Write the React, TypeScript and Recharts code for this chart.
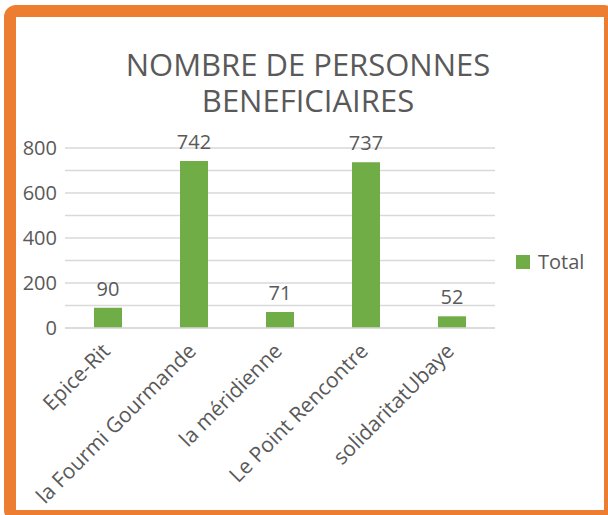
import { Bar, BarChart, CartesianGrid, LabelList, XAxis, YAxis } from "recharts";

const categories = ["Epice-Rit", "la Fourmi Gourmande", "la méridienne", "Le Point Rencontre", "solidaritatUbaye"];
const totals = [90, 742, 71, 737, 52];
const yTicks = [0, 100, 200, 300, 400, 500, 600, 700, 800];
const seriesName = "Total";
const titleLines = ["NOMBRE DE PERSONNES", "BENEFICIAIRES"];

const data = categories.map((name, i) => ({ name, total: totals[i] }));

const FONT = "'Open Sans', sans-serif";
const TEXT = "#595959";
const GREEN = "#70AD47";

function AngledTick(props: any) {
  const { x, y, payload } = props;
  const ax = x - 7;
  const ay = y + 6;
  return (
    <text
      x={ax}
      y={ay}
      dy="0.7em"
      textAnchor="end"
      fill={TEXT}
      fontSize={21}
      fontFamily={FONT}
      transform={`rotate(-45, ${ax}, ${ay})`}
    >
      {payload.value}
    </text>
  );
}

export default function App() {
  return (
    <div
      style={{
        position: "absolute",
        left: 0,
        top: 0,
        width: 608,
        height: 515,
        overflow: "hidden",
        background: "#fff"
      }}
    >
      <div
        style={{
          position: "absolute",
          left: 4,
          top: 5,
          width: 612,
          height: 517,
          boxSizing: "border-box",
          border: "12px solid #ED7D31",
          borderRadius: 12
        }}
      />
      <div
        style={{
          position: "absolute",
          left: 0,
          top: 46,
          width: 616,
          textAlign: "center",
          fontFamily: FONT,
          fontSize: 31,
          lineHeight: "36px",
          color: TEXT
        }}
      >
        {titleLines.map((t) => (
          <div key={t}>{t}</div>
        ))}
      </div>
      <div style={{ position: "absolute", left: 0, top: 0 }}>
        <BarChart width={608} height={515} data={data} margin={{ top: 148, right: 113, bottom: 0, left: 0 }}>
          <CartesianGrid vertical={false} stroke="#d9d9d9" strokeWidth={1.5} />
          <XAxis
            dataKey="name"
            interval={0}
            axisLine={{ stroke: "#d9d9d9", strokeWidth: 1.5 }}
            tickLine={false}
            tick={<AngledTick />}
            height={187}
          />
          <YAxis
            width={65}
            domain={[0, 800]}
            ticks={yTicks}
            interval={0}
            axisLine={false}
            tickLine={false}
            tickFormatter={(v: number) => (v % 200 === 0 ? String(v) : "")}
            tick={{ fill: TEXT, fontSize: 20, fontFamily: FONT }}
          />
          <Bar dataKey="total" name={seriesName} fill={GREEN} barSize={28} isAnimationActive={false}>
            <LabelList
              dataKey="total"
              position="top"
              offset={12}
              fill={TEXT}
              fontSize={20}
              fontFamily={FONT}
            />
          </Bar>
        </BarChart>
      </div>
      <div
        style={{
          position: "absolute",
          left: 516,
          top: 248,
          display: "flex",
          alignItems: "center",
          fontFamily: FONT,
          fontSize: 20,
          color: TEXT
        }}
      >
        <span style={{ display: "inline-block", width: 14, height: 14, background: GREEN, marginRight: 8 }} />
        {seriesName}
      </div>
    </div>
  );
}
